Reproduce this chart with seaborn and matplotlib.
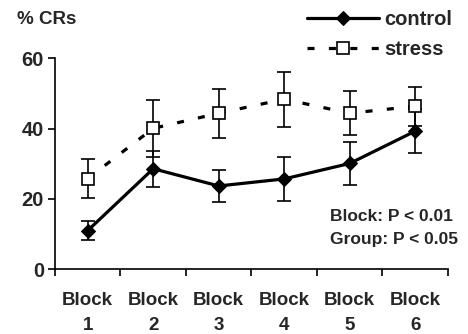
import numpy as np
import pandas as pd
import seaborn as sns
import matplotlib.pyplot as plt

blocks = ["Block\n1", "Block\n2", "Block\n3", "Block\n4", "Block\n5", "Block\n6"]
control_mean = [11.0, 28.6, 23.7, 25.7, 30.1, 39.3]
control_sem = [2.8, 5.1, 4.6, 6.2, 6.1, 6.3]
stress_mean = [25.8, 40.1, 44.4, 48.4, 44.4, 46.4]
stress_sem = [5.6, 8.1, 7.0, 7.8, 6.2, 5.6]

sns.set_theme(style="ticks")
plt.rcParams["font.family"] = ["Liberation Sans", "DejaVu Sans"]
plt.rcParams["font.weight"] = "bold"

df = pd.DataFrame({
    "pos": list(range(len(blocks))) * 2,
    "value": control_mean + stress_mean,
    "sem": control_sem + stress_sem,
    "group": ["control"] * len(blocks) + ["stress"] * len(blocks),
})
ctrl = df[df["group"] == "control"]
strs = df[df["group"] == "stress"]

fig = plt.figure(figsize=(4.68, 3.34), dpi=100)
ax = fig.add_axes([0.1175, 0.194, 0.8395, 0.631])

# error bars first, lines and markers on top
for d in (ctrl, strs):
    ax.errorbar(d["pos"], d["value"], yerr=d["sem"], fmt="none", ecolor="black",
                elinewidth=1.2, capsize=5, capthick=1.2, zorder=2)

sns.lineplot(data=ctrl, x="pos", y="value", ax=ax, color="black", lw=2.3,
             marker="D", markersize=7, markerfacecolor="black",
             markeredgecolor="black", zorder=4, label="control")
sns.lineplot(data=strs, x="pos", y="value", ax=ax, color="black", lw=2.3,
             dashes=(2.2, 4.5), marker="s", markersize=8.5,
             markerfacecolor="white", markeredgecolor="black",
             markeredgewidth=1.2, zorder=3, label="stress")

ax.set_xlim(-0.5, 5.5)
ax.set_ylim(0, 60)
ax.set_yticks([0, 20, 40, 60])
ax.set_xticks(range(len(blocks)))
ax.set_xticklabels(blocks, fontsize=13.5, fontweight="bold", linespacing=1.6)
ax.set_xticks(np.arange(-0.5, 6, 1), minor=True)
ax.tick_params(axis="x", which="major", length=0, pad=16.5)
ax.tick_params(axis="x", which="minor", length=5, width=1.2, color="black")
ax.tick_params(axis="y", length=5, width=1.2, color="black", labelsize=14.5, pad=3)
for lab in ax.get_yticklabels():
    lab.set_fontweight("bold")
ax.set_xlabel("")
ax.set_ylabel("")
sns.despine(ax=ax)
for s in ("left", "bottom"):
    ax.spines[s].set_linewidth(1.2)
    ax.spines[s].set_color("black")

fig.text(0.036, 0.942, "% CRs", fontsize=13.5, fontweight="bold", va="center")
ax.text(0.70, 0.248, "Block: P < 0.01", transform=ax.transAxes,
        fontsize=12.5, fontweight="bold", va="center")
ax.text(0.70, 0.139, "Group: P < 0.05", transform=ax.transAxes,
        fontsize=12.5, fontweight="bold", va="center")

handles, labels = ax.get_legend_handles_labels()
ax.legend(handles, labels, loc="upper right", bbox_to_anchor=(1.005, 1.025),
          bbox_transform=fig.transFigure, frameon=False, fontsize=14.5,
          handlelength=3.6, handletextpad=0.25, labelspacing=0.55)

fig.savefig("out.png", dpi=100)
